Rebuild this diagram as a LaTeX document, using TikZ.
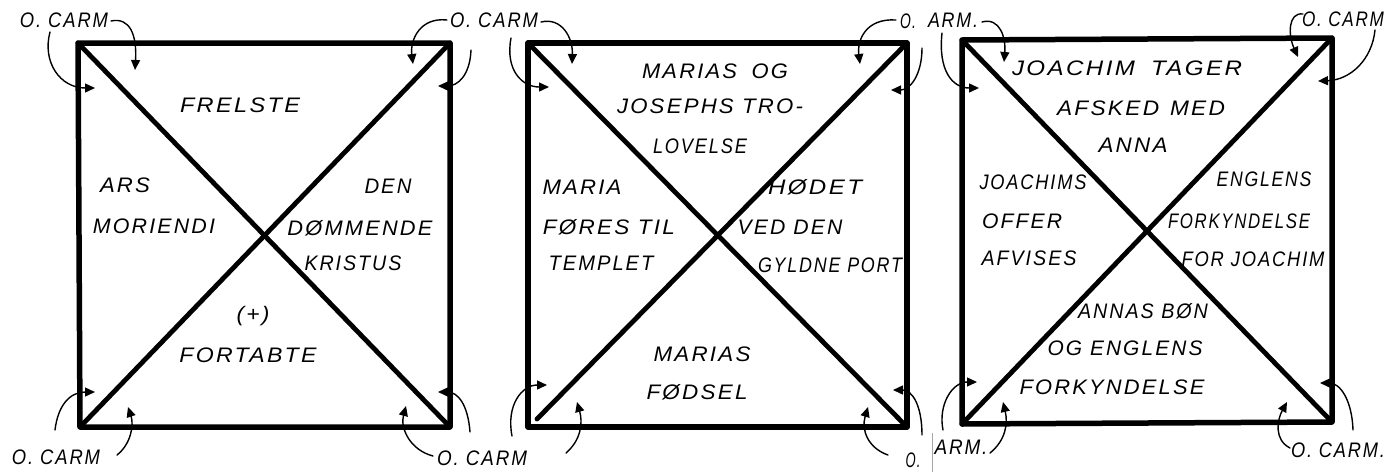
\documentclass[tikz,border=0pt]{standalone}
\usepackage{fontspec}
\usepackage{graphicx}
\usetikzlibrary{arrows.meta}
\newfontfamily\hand{Liberation Sans}[LetterSpace=10]
\newcommand\hw[2]{\resizebox{#1pt}{\height}{#2}}
\begin{document}
\begin{tikzpicture}[x=1pt,y=-1pt,
  txt/.style={font=\hand\itshape\fontsize{21}{21}\selectfont, inner sep=0pt, anchor=center},
  sq/.style={line width=5.5pt, line join=round, line cap=round},
  dg/.style={line width=4.8pt, line cap=round},
  arr/.style={line width=1.4pt, line cap=round, -{Triangle[length=10pt,width=9pt]}},
  seam/.style={line width=0.6pt, black!35}]
\useasboundingbox (0,0) rectangle (1387,472);
% ---------- corners ----------
\coordinate (a1) at (78,43);  \coordinate (b1) at (450,43);
\coordinate (c1) at (450,427); \coordinate (d1) at (80,427);
\coordinate (a2) at (528,43);  \coordinate (b2) at (907,43);
\coordinate (c2) at (907,427); \coordinate (d2) at (528,427);
\coordinate (e2) at (537,419);
\coordinate (a3) at (962,40);  \coordinate (b3) at (1332,38);
\coordinate (c3) at (1332,422); \coordinate (d3) at (962,424);
% ---------- squares ----------
\draw[sq] (a1) -- (b1) -- (c1) -- (d1) -- cycle;
\draw[dg] (a1) -- (c1); \draw[dg] (d1) -- (b1);
\draw[sq] (a2) -- (b2) -- (c2) -- (d2) -- cycle;
\draw[dg] (a2) -- (c2); \draw[dg] (e2) -- (b2);
\draw[sq] (a3) -- (b3) -- (c3) -- (d3) -- cycle;
\draw[dg] (a3) -- (c3); \draw[dg] (d3) -- (b3);
% ---------- O. CARM labels ----------
\node[txt] (L1) at (64,20) {\hw{88}{O. CARM}};
\node[txt] (L2) at (494,20) {\hw{88}{O. CARM}};
\node[txt] (L3a) at (908,21) {\hw{16}{O.}};
\node[txt] (L3b) at (953,20) {\hw{50}{ARM.}};
\node[txt] (L4) at (1343,19) {\hw{82}{O. CARM}};
\node[txt] (B1) at (56,457) {\hw{88}{O. CARM}};
\node[txt] (B2) at (482,458) {\hw{90}{O. CARM}};
\node[txt] (B3a) at (913,460) {\hw{15}{O.}};
\node[txt] (B3b) at (961,447) {\hw{53}{ARM.}};
\node[txt] (B4) at (1338,450) {\hw{94}{O. CARM.}};
\draw[seam] (932,433) -- (932,472);
% ---------- square 1 texts ----------
\node[txt] (t11) at (240,105) {\hw{120}{FRELSTE}};
\node[txt] (t12) at (125,185) {\hw{50}{ARS}};
\node[txt] (t13) at (154,226) {\hw{122}{MORIENDI}};
\node[txt] (t14) at (388,186) {\hw{47}{DEN}};
\node[txt] (t15) at (360,228) {\hw{145}{DØMMENDE}};
\node[txt] (t16) at (353,263) {\hw{97}{KRISTUS}};
\node[txt] (t17) at (253,316) {\hw{33}{(+)}};
\node[txt] (t18) at (248,355) {\hw{137}{FORTABTE}};
% ---------- square 2 texts ----------
\node[txt] (t21) at (715,71) {\hw{146}{MARIAS\hspace{14pt}OG}};
\node[txt] (t22) at (710,106) {\hw{186}{JOSEPHS TRO-}};
\node[txt] (t23) at (700,146) {\hw{94}{LOVELSE}};
\node[txt] (t24) at (582,187) {\hw{79}{MARIA}};
\node[txt] (t25) at (609,227) {\hw{132}{FØRES TIL}};
\node[txt] (t26) at (601,263) {\hw{105}{TEMPLET}};
\node[txt] (t27) at (815,187) {\hw{94}{HØDET}};
\node[txt] (t28) at (790,227) {\hw{105}{VED DEN}};
\node[txt] (t29) at (830,265) {\hw{144}{GYLDNE PORT}};
\node[txt] (t2a) at (702,354) {\hw{97}{MARIAS}};
\node[txt] (t2b) at (697,392) {\hw{101}{FØDSEL}};
% ---------- square 3 texts ----------
\node[txt] (t31) at (1127,68) {\hw{230}{JOACHIM\hspace{14pt}TAGER}};
\node[txt] (t32) at (1141,108) {\hw{168}{AFSKED\hspace{10pt}MED}};
\node[txt] (t33) at (1133,145) {\hw{69}{ANNA}};
\node[txt] (t34) at (1033,182) {\hw{107}{JOACHIMS}};
\node[txt] (t35) at (1022,221) {\hw{80}{OFFER}};
\node[txt] (t36) at (1029,258) {\hw{95}{AFVISES}};
\node[txt] (t37) at (1264,179) {\hw{95}{ENGLENS}};
\node[txt] (t38) at (1239,221) {\hw{142}{FORKYNDELSE}};
\node[txt] (t39) at (1253,259) {\hw{143}{FOR JOACHIM}};
\node[txt] (t3a) at (1143,311) {\hw{130}{ANNAS BØN}};
\node[txt] (t3b) at (1125,348) {\hw{155}{OG ENGLENS}};
\node[txt] (t3c) at (1112,387) {\hw{185}{FORKYNDELSE}};
% ---------- arrow start and end points ----------
\coordinate (s01) at (111,21);  \coordinate (e01) at (135,70);
\coordinate (s02) at (50,32);   \coordinate (e02) at (95,88);
\coordinate (s03) at (447,20);  \coordinate (e03) at (413,64);
\coordinate (s04) at (471,50);  \coordinate (e04) at (438,86);
\coordinate (s05) at (541,22);  \coordinate (e05) at (572,64);
\coordinate (s06) at (511,38);  \coordinate (e06) at (549,87);
\coordinate (s07) at (896,20);  \coordinate (e07) at (860,64);
\coordinate (s08) at (922,48);  \coordinate (e08) at (891,90);
\coordinate (s09) at (982,22);  \coordinate (e09) at (1004,62);
\coordinate (s10) at (942,33);  \coordinate (e10) at (979,88);
\coordinate (s11) at (1303,14); \coordinate (e11) at (1298,57);
\coordinate (s12) at (1375,30); \coordinate (e12) at (1318,81);
\coordinate (s13) at (55,430);  \coordinate (e13) at (95,392);
\coordinate (s14) at (117,455); \coordinate (e14) at (128,407);
\coordinate (s15) at (433,456); \coordinate (e15) at (406,406);
\coordinate (s16) at (470,432); \coordinate (e16) at (438,392);
\coordinate (s17) at (512,436); \coordinate (e17) at (547,385);
\coordinate (s18) at (566,453); \coordinate (e18) at (577,402);
\coordinate (s19) at (888,455); \coordinate (e19) at (868,407);
\coordinate (s20) at (922,435); \coordinate (e20) at (893,390);
\coordinate (s21) at (943,430); \coordinate (e21) at (977,382);
\coordinate (s22) at (990,453); \coordinate (e22) at (1003,402);
\coordinate (s23) at (1290,448); \coordinate (e23) at (1287,402);
\coordinate (s24) at (1353,430); \coordinate (e24) at (1320,383);
% ---------- arrows ----------
\draw[arr] (s01) .. controls (130,17) and (137,35) .. (e01);
\draw[arr] (s02) .. controls (42,62) and (60,88) .. (e02);
\draw[arr] (s03) .. controls (420,17) and (410,40) .. (e03);
\draw[arr] (s04) .. controls (470,75) and (458,86) .. (e04);
\draw[arr] (s05) .. controls (562,17) and (573,38) .. (e05);
\draw[arr] (s06) .. controls (505,70) and (522,87) .. (e06);
\draw[arr] (s07) .. controls (866,18) and (857,40) .. (e07);
\draw[arr] (s08) .. controls (922,75) and (910,90) .. (e08);
\draw[arr] (s09) .. controls (1000,17) and (1006,38) .. (e09);
\draw[arr] (s10) .. controls (938,70) and (952,88) .. (e10);
\draw[arr] (s11) .. controls (1288,12) and (1288,35) .. (e11);
\draw[arr] (s12) .. controls (1372,60) and (1350,80) .. (e12);
\draw[arr] (s13) .. controls (58,405) and (70,392) .. (e13);
\draw[arr] (s14) .. controls (131,444) and (134,425) .. (e14);
\draw[arr] (s15) .. controls (410,450) and (400,428) .. (e15);
\draw[arr] (s16) .. controls (468,405) and (458,392) .. (e16);
\draw[arr] (s17) .. controls (506,405) and (522,385) .. (e17);
\draw[arr] (s18) .. controls (581,440) and (583,423) .. (e18);
\draw[arr] (s19) .. controls (868,448) and (861,430) .. (e19);
\draw[arr] (s20) .. controls (922,405) and (912,390) .. (e20);
\draw[arr] (s21) .. controls (938,405) and (952,382) .. (e21);
\draw[arr] (s22) .. controls (1006,440) and (1008,423) .. (e22);
\draw[arr] (s23) .. controls (1274,440) and (1277,420) .. (e23);
\draw[arr] (s24) .. controls (1352,400) and (1340,383) .. (e24);
\end{tikzpicture}
\end{document}
